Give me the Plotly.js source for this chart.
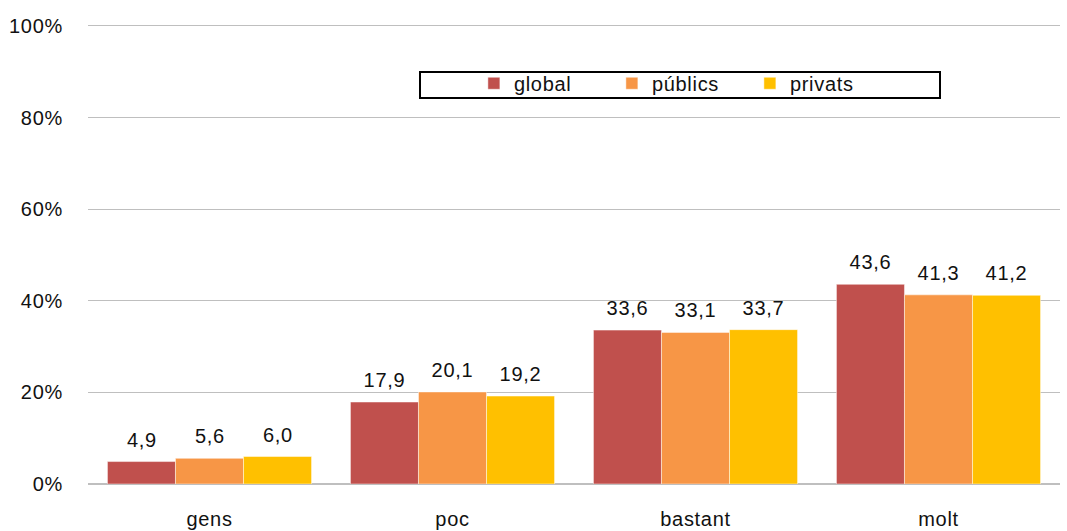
<!DOCTYPE html>
<html>
<head>
<meta charset="utf-8">
<script src="https://cdn.plot.ly/plotly-3.0.1.min.js"></script>
<style>
html,body{margin:0;padding:0;background:#fff;}
#chart{width:1067px;height:531px;}
#chart text{letter-spacing:0.7px;}
</style>
</head>
<body>
<div id="chart"></div>
<script>
var categories = ["gens", "poc", "bastant", "molt"];
var seriesNames = ["global", "públics", "privats"];
var globalVals = [4.9, 17.9, 33.6, 43.6];
var publicsVals = [5.6, 20.1, 33.1, 41.3];
var privatsVals = [6.0, 19.2, 33.7, 41.2];
var yTickVals = [0, 20, 40, 60, 80, 100];
var yTickText = ["0%", "20%", "40%", "60%", "80%", "100%"];

var colors = ["#C0504D", "#F79646", "#FFC000"];
var values = [globalVals, publicsVals, privatsVals];
var FONT = "Liberation Sans, Arial, sans-serif";
var TXT = "#111111";

var traces = values.map(function (v, i) {
  return {
    type: "bar",
    name: seriesNames[i],
    x: categories,
    y: v,
    marker: { color: colors[i], line: { color: "rgba(255,255,255,0.6)", width: 0.8 } },
    hoverinfo: "skip"
  };
});

// value labels above each bar, placed through the axes from the same arrays
var BAR_PX = 68; // pixel width of one bar within a group
var annotations = [];
values.forEach(function (v, i) {
  v.forEach(function (val, j) {
    annotations.push({
      x: categories[j], y: val, xref: "x", yref: "y",
      text: val.toFixed(1).replace(".", ","),
      showarrow: false, xanchor: "center", yanchor: "bottom",
      xshift: (i - 1) * BAR_PX, yshift: 9,
      font: { family: FONT, size: 20, color: TXT }
    });
  });
});

var layout = {
  width: 1067,
  height: 531,
  margin: { l: 88, r: 7, t: 26, b: 47 },
  paper_bgcolor: "#fff",
  plot_bgcolor: "#fff",
  separators: ",.",
  barmode: "group",
  bargap: 0.16,
  bargroupgap: 0,
  showlegend: true,
  legend: {
    orientation: "h",
    x: 0.397, xanchor: "left",
    y: 0.875, yanchor: "middle",
    font: { family: FONT, size: 20, color: TXT },
    bgcolor: "rgba(0,0,0,0)",
    borderwidth: 0,
    entrywidth: 93,
    entrywidthmode: "pixels",
    traceorder: "normal"
  },
  annotations: annotations,
  shapes: [{
    type: "rect", xref: "paper", yref: "paper",
    x0: (420 - 88) / 972, x1: (940 - 88) / 972,
    y0: (484 - 98) / 458, y1: (484 - 72) / 458,
    line: { color: "#000", width: 2 }, fillcolor: "rgba(0,0,0,0)", layer: "above"
  }],
  xaxis: {
    type: "category",
    tickfont: { family: FONT, size: 20, color: TXT },
    showgrid: false,
    showline: true,
    linecolor: "#BFBFBF",
    linewidth: 1,
    mirror: true,
    zeroline: false,
    ticks: "",
    ticklabelstandoff: 17,
    fixedrange: true
  },
  yaxis: {
    range: [0, 100],
    tickvals: yTickVals,
    ticktext: yTickText,
    tickfont: { family: FONT, size: 20, color: TXT },
    showgrid: true,
    gridcolor: "#BFBFBF",
    gridwidth: 1,
    zeroline: true,
    zerolinecolor: "#BFBFBF",
    zerolinewidth: 2,
    showline: false,
    ticks: "",
    ticklabelstandoff: 24,
    fixedrange: true
  }
};

Plotly.newPlot("chart", traces, layout, { displayModeBar: false, staticPlot: true });
</script>
</body>
</html>
